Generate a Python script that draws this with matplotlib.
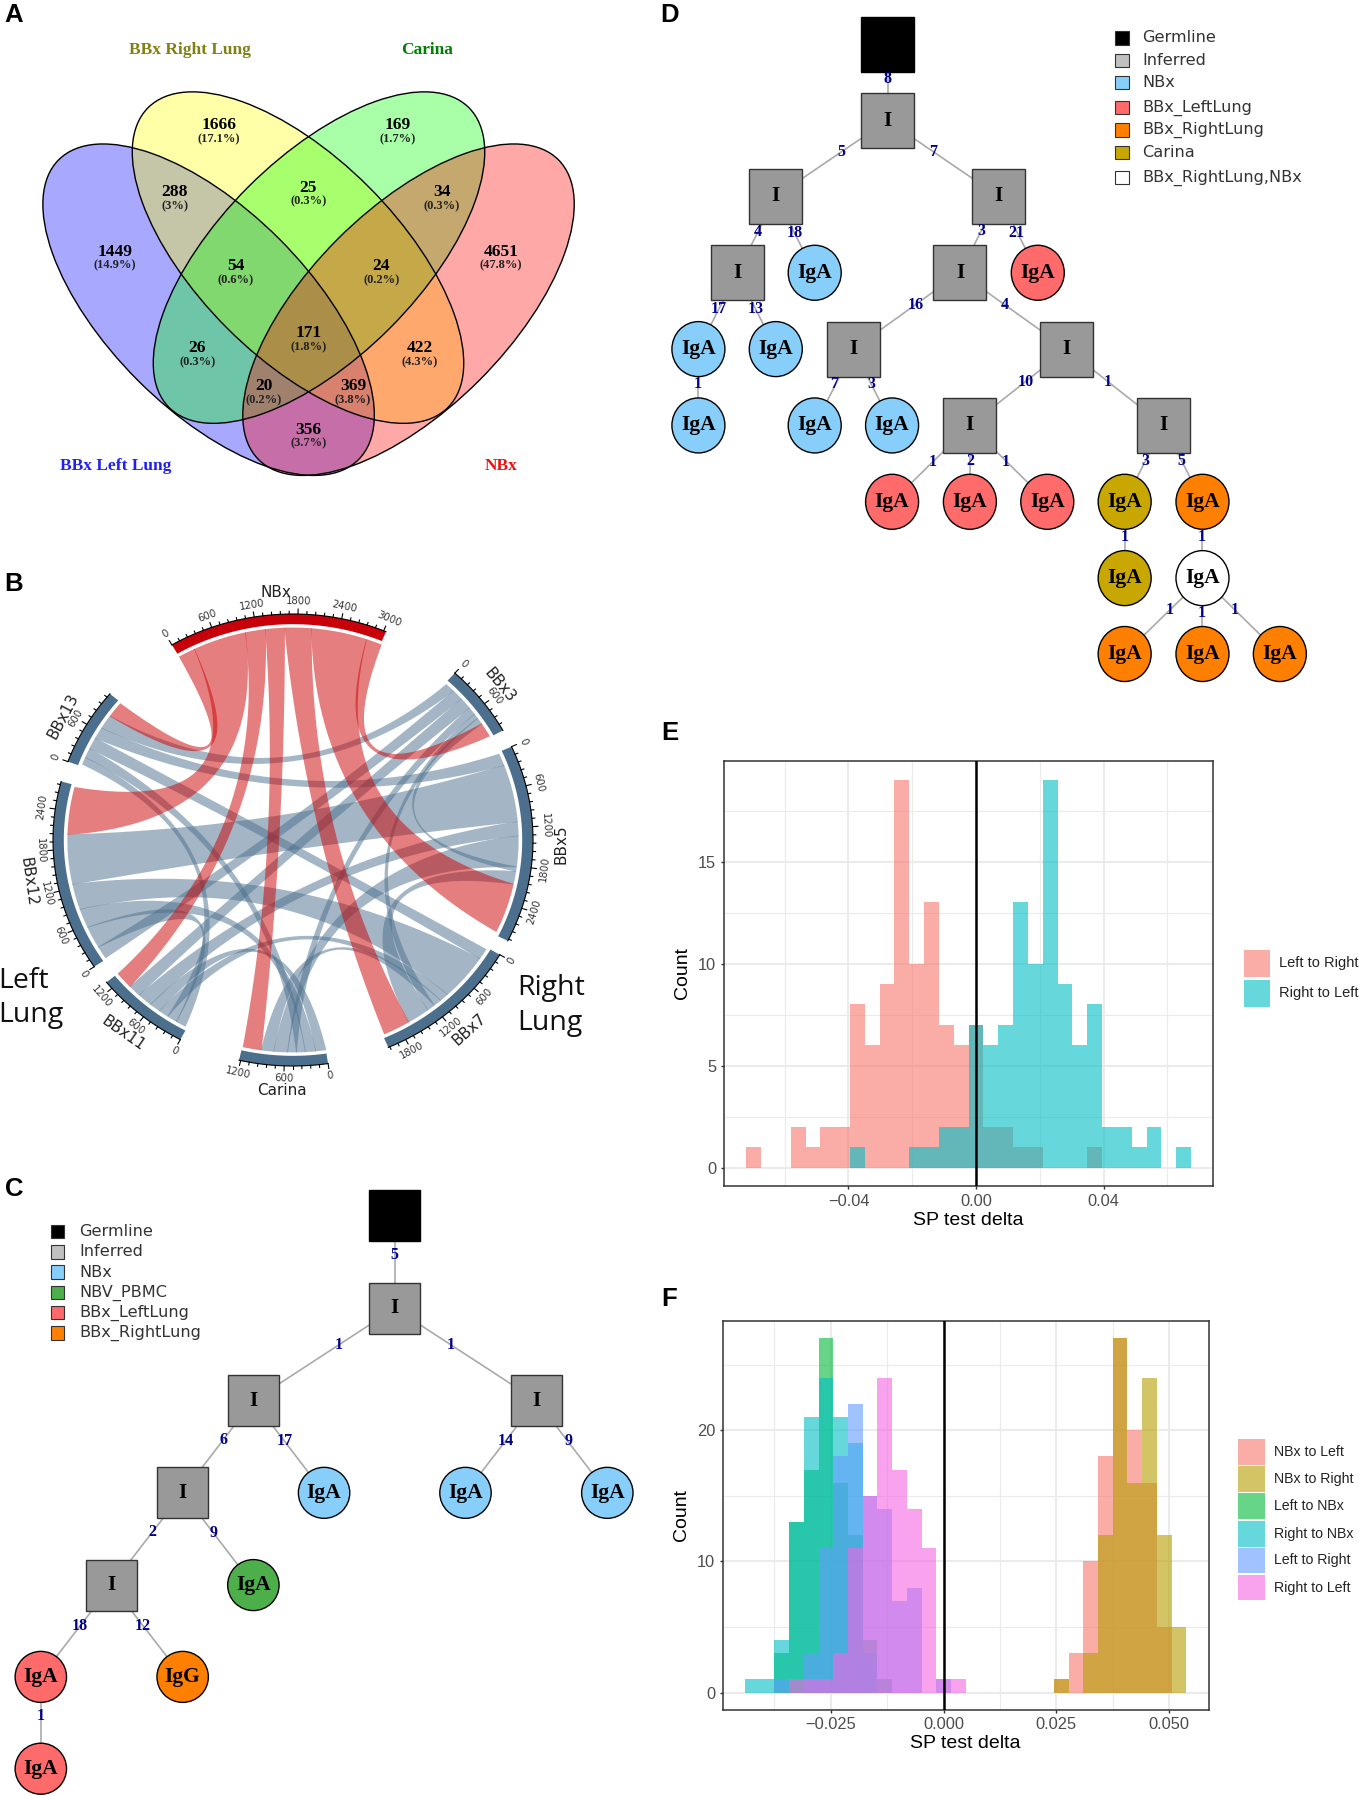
import numpy as np
import matplotlib
matplotlib.use("Agg")
import matplotlib.pyplot as plt
from matplotlib.patches import Ellipse, Rectangle

W, H = 1359, 1796
SERIF = "Liberation Serif"
SANS = "Liberation Sans"

# ---------- DATA ----------
venn_counts = [1666, 169, 288, 34, 25, 1449, 4651, 54, 24, 171, 26, 422, 20, 369, 356]
venn_pcts = ["(17.1%)", "(1.7%)", "(3%)", "(0.3%)", "(0.3%)", "(14.9%)", "(47.8%)", "(0.6%)",
             "(0.2%)", "(1.8%)", "(0.3%)", "(4.3%)", "(0.2%)", "(3.8%)", "(3.7%)"]
venn_names = ["BBx Right Lung", "Carina", "BBx Left Lung", "NBx"]

sector_names = ["NBx", "BBx3", "BBx5", "BBx7", "Carina", "BBx11", "BBx12", "BBx13"]
sector_ticks = {"NBx": [0, 600, 1200, 1800, 2400, 3000], "BBx3": [0, 600],
                "BBx5": [0, 600, 1200, 1800, 2400], "BBx7": [0, 600, 1200, 1800],
                "Carina": [0, 600, 1200], "BBx11": [0, 600, 1200],
                "BBx12": [0, 600, 1200, 1800, 2400], "BBx13": [0, 600]}
# (sector, from, to, sector, from, to) in sector units
links_red = [("NBx", 0, 250, "BBx13", 880, 1126), ("NBx", 250, 1035, "BBx12", 2030, 2770),
             ("NBx", 1035, 1330, "BBx11", 1046, 1310), ("NBx", 1330, 1610, "Carina", 943, 1211),
             ("NBx", 1610, 2000, "BBx7", 1634, 2034), ("NBx", 2000, 2820, "BBx5", 2080, 2857),
             ("NBx", 2820, 3050, "BBx3", 823, 1046)]
links_gray = [("BBx3", 28, 170, "BBx13", 660, 880), ("BBx3", 170, 340, "BBx12", 20, 217),
              ("BBx3", 340, 520, "BBx11", 860, 1046), ("BBx3", 520, 640, "Carina", 430, 560),
              ("BBx3", 640, 720, "BBx7", 1180, 1300), ("BBx3", 720, 823, "BBx5", 1810, 1880),
              ("BBx5", 30, 218, "BBx13", 480, 660), ("BBx5", 218, 1110, "BBx12", 1260, 2030),
              ("BBx5", 1110, 1330, "BBx11", 640, 860), ("BBx5", 1330, 1810, "Carina", 560, 760),
              ("BBx5", 1880, 2080, "BBx7", 1300, 1634), ("BBx7", 30, 200, "BBx13", 300, 480),
              ("BBx7", 200, 926, "BBx12", 860, 1260), ("BBx7", 926, 1060, "BBx11", 330, 480),
              ("BBx7", 1060, 1180, "Carina", 760, 943), ("Carina", 300, 430, "BBx13", 150, 300),
              ("Carina", 150, 300, "BBx12", 560, 860), ("Carina", 0, 150, "BBx11", 480, 640),
              ("BBx11", 30, 180, "BBx13", 34, 150), ("BBx11", 180, 330, "BBx12", 217, 560)]

c_labels = ["", "I", "I", "I", "I", "IgA", "IgA", "IgA", "I", "IgA", "IgA", "IgG", "IgA"]
c_groups = ["Germline", "Inferred", "Inferred", "Inferred", "Inferred", "NBx", "NBx", "NBx",
            "Inferred", "NBV_PBMC", "BBx_LeftLung", "BBx_RightLung", "BBx_LeftLung"]
c_parents = [-1, 0, 1, 1, 2, 2, 3, 3, 4, 4, 8, 8, 10]
c_edges = ["", "5", "1", "1", "6", "17", "14", "9", "2", "9", "18", "12", "1"]
c_legend = ["Germline", "Inferred", "NBx", "NBV_PBMC", "BBx_LeftLung", "BBx_RightLung"]

d_labels = ["", "I", "I", "I", "I", "IgA", "I", "IgA", "IgA", "IgA", "I", "I", "IgA", "IgA", "IgA",
            "I", "I", "IgA", "IgA", "IgA", "IgA", "IgA", "IgA", "IgA", "IgA", "IgA", "IgA"]
d_groups = ["Germline", "Inferred", "Inferred", "Inferred", "Inferred", "NBx", "Inferred",
            "BBx_LeftLung", "NBx", "NBx", "Inferred", "Inferred", "NBx", "NBx", "NBx", "Inferred",
            "Inferred", "BBx_LeftLung", "BBx_LeftLung", "BBx_LeftLung", "Carina", "BBx_RightLung",
            "Carina", "BBx_RightLung,NBx", "BBx_RightLung", "BBx_RightLung", "BBx_RightLung"]
d_parents = [-1, 0, 1, 1, 2, 2, 3, 3, 4, 4, 6, 6, 8, 10, 10, 11, 11, 15, 15, 15, 16, 16, 20, 21, 23, 23, 23]
d_edges = ["", "8", "5", "7", "4", "18", "3", "21", "17", "13", "16", "4", "1", "7", "3", "10", "1",
           "1", "2", "1", "3", "5", "1", "1", "1", "1", "1"]
d_legend = ["Germline", "Inferred", "NBx", "BBx_LeftLung", "BBx_RightLung", "Carina", "BBx_RightLung,NBx"]

e_bins = list(range(-15, 15))
e_left_to_right = [1, 0, 0, 2, 1, 2, 2, 8, 6, 9, 19, 10, 13, 7, 6, 7, 2, 2, 1, 1, 0, 0, 0, 1, 0, 0, 0, 0, 0, 0]
e_right_to_left = [0, 0, 0, 0, 0, 0, 0, 1, 0, 0, 0, 1, 1, 2, 2, 7, 6, 7, 13, 10, 19, 9, 6, 8, 2, 2, 1, 2, 0, 1]
e_names = ["Left to Right", "Right to Left"]

f_bins = list(range(-13, 17))
f_nbx_left = [0]*21 + [1, 3, 10, 18, 27, 20, 16, 5, 0]
f_nbx_right = [0]*21 + [1, 0, 3, 12, 27, 16, 24, 12, 5]
f_left_nbx = [0, 0, 3, 13, 17, 27, 16, 12, 4, 1, 0, 0, 0, 0, 0] + [0]*15
f_right_nbx = [1, 1, 4, 13, 21, 24, 21, 19, 3, 0, 0, 0, 0, 0, 0] + [0]*15
f_left_right = [0, 0, 1, 0, 3, 11, 18, 22, 15, 14, 7, 8, 0, 1, 0] + [0]*15
f_right_left = [0, 0, 0, 1, 1, 1, 3, 11, 15, 24, 17, 14, 11, 1, 1] + [0]*15
f_names = ["NBx to Left", "NBx to Right", "Left to NBx", "Right to NBx", "Left to Right", "Right to Left"]

# ---------- STYLE / LAYOUT ----------
fig = plt.figure(figsize=(W/100, H/100), dpi=100, facecolor="white")
ov = fig.add_axes([0, 0, 1, 1])
ov.set_xlim(0, W); ov.set_ylim(H, 0); ov.axis("off")


def panel_axes(x0, y0, x1, y1):
    return fig.add_axes([x0/W, 1-y1/H, (x1-x0)/W, (y1-y0)/H])


for let, x, y in [("A", 13.5, 15.5), ("B", 13.5, 584), ("C", 14.7, 1189), ("D", 670, 15), ("E", 670, 733), ("F", 669, 1299.5)]:
    ov.text(x, y, let, fontsize=18.5, fontweight="bold", family=SANS, ha="center", va="center")

# ---------- A: Venn ----------
venn_centres = [(208.6, 309.7, "blue"), (298, 257.6, "yellow"), (319, 257.6, "#00ff00"), (408.5, 309.7, "red")]
angles = [45, 45, -45, -45]
for (cx, cy, col), ang_ in zip(venn_centres, angles):
    ov.add_patch(Ellipse((cx, cy), 424, 200, angle=ang_, facecolor=col, edgecolor="none", alpha=0.34, zorder=2))
for (cx, cy, col), ang_ in zip(venn_centres, angles):
    ov.add_patch(Ellipse((cx, cy), 424, 200, angle=ang_, facecolor="none", edgecolor="black", lw=1.0, zorder=3))
venn_pos = [(537, 358), (974, 358), (428, 553), (1083, 553), (755, 540), (282, 725), (1228, 725), (577, 768),
            (934, 768), (755, 962), (483, 1005), (1028, 1005), (646, 1116), (865, 1116), (755, 1242)]
for n, p, (zx, zy) in zip(venn_counts, venn_pcts, venn_pos):
    ov.text(zx/2.45, zy/2.9 + 1.5, str(n), family=SERIF, fontweight="bold", fontsize=12.5, ha="center", va="center", zorder=5)
    ov.text(zx/2.45, (zy+42)/2.9 + 1, p, family=SERIF, fontweight="bold", fontsize=9, ha="center", va="center", color="#222222", zorder=5)
for name, col, (zx, zy) in zip(venn_names, ["#808015", "#008000", "#2020f0", "#f01010"],
                               [(465, 142), (1047, 142), (283, 1348), (1229, 1348)]):
    ov.text(zx/2.45, zy/2.9 + 1.5, name, family=SERIF, fontweight="bold", fontsize=12.5, color=col, ha="center", va="center")

# ---------- B: chord ----------
CX, CY, RX, RY = 293, 840, 240, 226
DEG_PER_UNIT = 0.0175
sector_start = {"NBx": 120.3, "BBx3": 47.6, "BBx5": 24.4, "BBx7": -30.5, "Carina": -81.6, "BBx11": -118,
                "BBx12": -145.9, "BBx13": 159.7}
sector_end = {"NBx": 67.2, "BBx3": 29, "BBx5": -26.5, "BBx7": -66.6, "Carina": -103, "BBx11": -141,
              "BBx12": -195, "BBx13": 139.7}


def pol(a, r):
    t = np.radians(a)
    return CX + RX*r*np.cos(t), CY - RY*r*np.sin(t)


def ang(sec, u):
    return sector_start[sec] - u*DEG_PER_UNIT


R_LINK = 0.94


def bez(a0, a1, n=40):
    d = (a1 - a0 + 180) % 360 - 180
    mid = a0 + d/2
    sep = abs(d)
    rc = 0.30 * (1 - sep/180) ** 0.6 * 0.62
    p0 = np.array(pol(a0, R_LINK)); p1 = np.array(pol(a1, R_LINK)); c = np.array(pol(mid, rc))
    t = np.linspace(0, 1, n)[:, None]
    return (1-t)**2*p0 + 2*t*(1-t)*c + t**2*p1


def link(l, color, alpha, z, pad=0):
    s1, a0, a1, s2, b0, b1 = l
    A0, A1, B0, B1 = ang(s1, a0-pad), ang(s1, a1+pad), ang(s2, b0-pad), ang(s2, b1+pad)
    arcA = np.array([pol(a, R_LINK) for a in np.linspace(A0, A1, 20)])
    arcB = np.array([pol(a, R_LINK) for a in np.linspace(B0, B1, 20)])
    v = np.vstack([arcA, bez(A1, B0), arcB, bez(B1, A0)])
    ov.fill(v[:, 0], v[:, 1], color=color, alpha=alpha, lw=0, zorder=z)


for l in links_gray:
    link(l, "#4B6F8C", 0.5, 2, pad=5)
for l in links_red:
    link(l, "#CC0000", 0.5, 2, pad=4)

for s in sector_names:
    col = "#C80009" if s == "NBx" else "#4B6F8C"
    a = np.linspace(sector_start[s], sector_end[s], 60)
    out = np.array([pol(t, 1.0) for t in a]); inn = np.array([pol(t, 0.955) for t in a[::-1]])
    v = np.vstack([out, inn])
    ov.fill(v[:, 0], v[:, 1], color=col, lw=0, zorder=3)
    ov.plot(out[:, 0], out[:, 1], color="black", lw=0.8, zorder=3)
    cap = int((sector_start[s] - sector_end[s]) / DEG_PER_UNIT)
    for u in range(0, cap+1, 120):
        major = u % 600 == 0
        x0, y0 = pol(ang(s, u), 1.0); x1, y1 = pol(ang(s, u), 1.022 if major else 1.012)
        ov.plot([x0, x1], [y0, y1], color="black", lw=0.8, zorder=3)
    for u in sector_ticks[s]:
        th = ang(s, u)
        x, y = pol(th, 1.055)
        nt = (th + 180) % 360 - 180
        rot = nt - 90 if nt >= 0 else nt + 90
        ov.text(x, y, str(u), fontsize=7.3, color="#333333", family="DejaVu Sans", rotation=rot,
                rotation_mode="anchor", ha="center", va="center")

for s, x, y, rot in [("NBx", 275.5, 592.6, 0), ("BBx3", 500, 685, -50), ("BBx5", 561, 843.7, 90), ("BBx7", 469.4, 1029.6, 42),
                     ("Carina", 282.4, 1090.7, 0), ("BBx11", 123.3, 1033.7, -35), ("BBx12", 28.6, 881.5, -82), ("BBx13", 63.3, 716, 62)]:
    ov.text(x, y, s, fontsize=11, family="DejaVu Sans", rotation=rot, ha="center", va="center", rotation_mode="anchor", color="#222222")

for txt, x, y in [("Left", -2, 981), ("Lung", -2, 1015), ("Right", 517, 988), ("Lung", 517, 1023)]:
    ov.text(x, y, txt, fontsize=20.5, family="Open Sans", ha="left", va="center", color="#111111")

# ---------- C, D: trees ----------
group_col = {"Germline": "black", "Inferred": "#999999", "NBx": "#87CEFA", "NBV_PBMC": "#4DAF4A",
             "BBx_LeftLung": "#FF6A6A", "BBx_RightLung": "#FF8000", "Carina": "#C8A800", "BBx_RightLung,NBx": "white"}
legend_col = dict(group_col); legend_col["Inferred"] = "#C0C0C0"


def tree(labels, groups, parents, edges, pos, label_pos, sx, sy, ox, oy, hw, hh):
    P = [(ox + x/sx, oy + y/sy) for x, y in pos]
    for i, p in enumerate(parents):
        if p >= 0:
            ov.plot([P[i][0], P[p][0]], [P[i][1], P[p][1]], color="#aaaaaa", lw=1.2, zorder=2)
    for (x, y), lab, g in zip(P, labels, groups):
        if g in ("Germline", "Inferred"):
            ov.add_patch(Rectangle((x-hw, y-hh), 2*hw, 2*hh, facecolor=group_col[g],
                                   edgecolor="black" if g == "Germline" else "#333333", lw=1.0, zorder=3))
        else:
            ov.add_patch(Ellipse((x, y), 2*hw, 2*hh, facecolor=group_col[g], edgecolor="black", lw=1.0, zorder=3))
        if lab:
            ov.text(x, y, lab, family=SERIF, fontweight="bold", fontsize=15.5, ha="center", va="center", zorder=4)
    for e, (x, y) in zip(edges[1:], label_pos):
        ov.text(ox + x/sx, oy + y/sy, e, family=SERIF, fontweight="bold", fontsize=11.5, color="#00008B",
                ha="center", va="center", zorder=4)


c_pos = [(938, 222), (938, 437), (602, 651), (1275, 651), (434, 865), (770, 865), (1106, 865), (1443, 865),
         (265, 1079), (602, 1079), (97, 1292), (434, 1292), (97, 1505)]
c_lab = [(938, 314), (806, 521), (1070, 521), (530, 743), (676, 745), (1202, 745), (1350, 745), (361, 956),
         (508, 958), (190, 1173), (339, 1173), (96, 1383)]
tree(c_labels, c_groups, c_parents, c_edges, c_pos, c_lab, 2.376, 2.32, 0, 1120, 25.7, 25.5)

d_pos = [(525, 99), (525, 270), (278, 440), (771, 440), (193, 611), (364, 611), (685, 611), (857, 611),
         (107, 782), (278, 782), (450, 782), (921, 782), (107, 953), (364, 953), (535, 953), (707, 953),
         (1135, 953), (535, 1124), (707, 1124), (878, 1124), (1049, 1124), (1221, 1124), (1049, 1295),
         (1221, 1295), (1049, 1465), (1221, 1465), (1392, 1465)]
d_lab = [(525, 178), (424, 340), (625, 340), (239, 520), (319, 521), (732, 518), (810, 521), (152, 692), (233, 692),
         (588, 683), (783, 684), (106, 861), (408, 861), (489, 861), (830, 855), (1011, 855), (624, 1035), (707, 1032),
         (787, 1036), (1094, 1033), (1175, 1033), (1049, 1202), (1220, 1202), (1149, 1366), (1220, 1373), (1292, 1366)]
tree(d_labels, d_groups, d_parents, d_edges, d_pos, d_lab, 2.21, 2.24, 650, 0, 26.5, 27.5)


def tree_legend(names, kx, ys, tx):
    for n, y in zip(names, ys):
        ov.add_patch(Rectangle((kx-6.7, y-6.7), 13.4, 13.4, facecolor=legend_col[n], edgecolor="#333333", lw=0.8, zorder=3))
        ov.text(tx, y, n, fontsize=11.6, family="DejaVu Sans", color="#333333", ha="left", va="center")


tree_legend(c_legend, 137/2.376, [1120 + z/2.32 for z in (258, 306, 353, 400, 447, 494)], 188/2.376)
tree_legend(d_legend, 650 + 1043/2.21, [z/2.24 for z in (85, 135, 185, 241, 291, 342, 398)], 650 + 1088/2.21)


# ---------- E, F: histograms ----------
def hist_axes(box, xlim, ylim, xmaj, xmin, ymaj, ymin, xfmt):
    ax = panel_axes(*box)
    ax.set_xlim(*xlim); ax.set_ylim(*ylim)
    ax.set_axisbelow(True)
    ax.set_xticks(xmaj); ax.set_xticks(xmin, minor=True)
    ax.set_yticks(ymaj); ax.set_yticks(ymin, minor=True)
    ax.grid(True, which="major", color="#EBEBEB", lw=1.5)
    ax.grid(True, which="minor", color="#EBEBEB", lw=0.8)
    ax.tick_params(which="minor", length=0)
    ax.tick_params(which="major", length=2.5, width=1, color="#333333", labelcolor="#4D4D4D", labelsize=11.8, pad=3)
    ax.set_xticklabels([xfmt(v) for v in xmaj], family=SANS)
    ax.set_yticklabels([str(v) for v in ymaj], family=SANS)
    ax.set_xlabel("SP test delta", family=SANS, fontsize=14, labelpad=2)
    ax.set_ylabel("Count", family=SANS, fontsize=14, labelpad=5)
    for s in ax.spines.values():
        s.set_color("#333333"); s.set_linewidth(1.1)
    ax.axvline(0, color="black", lw=1.8, zorder=5)
    return ax


E_W = 0.00465
ax_e = hist_axes((723.8, 760.7, 1213.3, 1186.2), (-0.0791, 0.0744), (-0.91, 19.95),
                 [-0.04, 0, 0.04], [-0.06, -0.02, 0.02, 0.06], [0, 5, 10, 15], [2.5, 7.5, 12.5, 17.5],
                 lambda v: "\u22120.04" if v < 0 else f"{v:.2f}")
for vals, col in zip([e_left_to_right, e_right_to_left], ["#F8766D", "#00BFC4"]):
    ax_e.bar(np.array(e_bins)*E_W, vals, width=E_W, color=col, alpha=0.6, lw=0, zorder=2)

F_W = 0.00326
ax_f = hist_axes((722.9, 1321.3, 1208.5, 1709.6), (-0.0489, 0.0587), (-1.3, 28.3),
                 [-0.025, 0, 0.025, 0.05], [-0.0375, -0.0125, 0.0125, 0.0375], [0, 10, 20], [5, 15, 25],
                 lambda v: "\u22120.025" if v < 0 else f"{v:.3f}")
f_series = [f_nbx_left, f_nbx_right, f_left_nbx, f_right_nbx, f_left_right, f_right_left]
f_cols = ["#F8766D", "#B79F00", "#00BA38", "#00BFC4", "#619CFF", "#F564E3"]
for vals, col in zip(f_series, f_cols):
    ax_f.bar(np.array(f_bins)*F_W, vals, width=F_W, color=col, alpha=0.6, lw=0, zorder=2)

# legends
for n, col, y0, y1 in zip(e_names, ["#F8766D", "#00BFC4"], [949.7, 979.7], [977, 1007]):
    ov.add_patch(Rectangle((1243.7, y0), 26.1, y1-y0, facecolor=col, alpha=0.6, lw=0))
    ov.text(1279, (y0+y1)/2, n, family=SANS, fontsize=10.5, color="#222222", ha="left", va="center")
f_key_y = [(505, 580), (585, 662), (666, 743), (748, 824), (828, 903), (909, 984)]
for n, col, (z0, z1) in zip(f_names, f_cols, f_key_y):
    y0, y1 = 1270+z0/2.98, 1270+z1/2.98
    ov.add_patch(Rectangle((1238, y0), 26.8, y1-y0, facecolor=col, alpha=0.6, lw=0))
    ov.text(1274.5, (y0+y1)/2, n, family=SANS, fontsize=10.2, color="#222222", ha="left", va="center")

fig.savefig("out.png", dpi=100)
